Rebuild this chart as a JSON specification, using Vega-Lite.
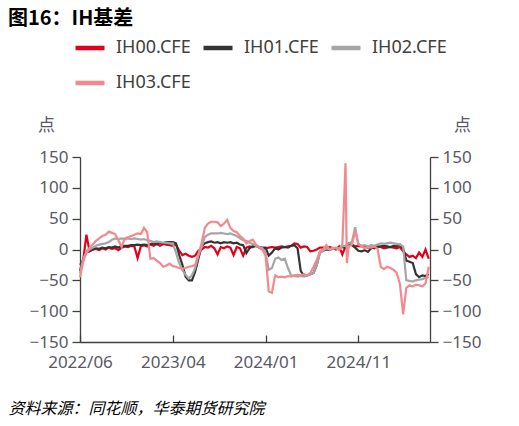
{
  "$schema": "https://vega.github.io/schema/vega-lite/v6.json",
  "width": 350,
  "height": 185,
  "autosize": "none",
  "padding": {"left": 80, "top": 157, "right": 89, "bottom": 84},
  "background": "white",
  "config": {"view": {"stroke": null}, "font": "Noto Sans"},
  "title": {
    "text": "图16：IH基差",
    "font": "Noto Sans CJK SC",
    "fontSize": 20,
    "fontWeight": "bold",
    "color": "#000000",
    "anchor": "start",
    "frame": "group",
    "dx": -72,
    "offset": 2
  },
  "data": {
    "values": [
      {"d": "2022-06-20", "IH00": -25, "IH01": -35, "IH02": -38, "IH03": -45},
      {"d": "2022-06-30", "IH00": -18, "IH01": -15, "IH02": -15, "IH03": -20},
      {"d": "2022-07-10", "IH00": 24, "IH01": -5, "IH02": -5, "IH03": -3},
      {"d": "2022-07-20", "IH00": -3, "IH01": -2, "IH02": 0, "IH03": 3},
      {"d": "2022-07-30", "IH00": 0, "IH01": 0, "IH02": 3, "IH03": 8},
      {"d": "2022-08-09", "IH00": 1, "IH01": 2, "IH02": 6, "IH03": 14},
      {"d": "2022-08-19", "IH00": -1, "IH01": 1, "IH02": 8, "IH03": 18},
      {"d": "2022-08-29", "IH00": 2, "IH01": 3, "IH02": 9, "IH03": 22},
      {"d": "2022-09-08", "IH00": 0, "IH01": 2, "IH02": 10, "IH03": 24},
      {"d": "2022-09-18", "IH00": 3, "IH01": 4, "IH02": 12, "IH03": 29},
      {"d": "2022-09-28", "IH00": 1, "IH01": 3, "IH02": 16, "IH03": 27},
      {"d": "2022-10-08", "IH00": 2, "IH01": 5, "IH02": 18, "IH03": 25},
      {"d": "2022-10-18", "IH00": -1, "IH01": 3, "IH02": 17, "IH03": 15},
      {"d": "2022-10-28", "IH00": 3, "IH01": 5, "IH02": 18, "IH03": 4},
      {"d": "2022-11-07", "IH00": 5, "IH01": 6, "IH02": 17, "IH03": 18},
      {"d": "2022-11-17", "IH00": 4, "IH01": 6, "IH02": 18, "IH03": 20},
      {"d": "2022-11-27", "IH00": 6, "IH01": 7, "IH02": 17, "IH03": 22},
      {"d": "2022-12-07", "IH00": 5, "IH01": 7, "IH02": 18, "IH03": 24},
      {"d": "2022-12-17", "IH00": -14, "IH01": 8, "IH02": 17, "IH03": 26},
      {"d": "2022-12-27", "IH00": 5, "IH01": 7, "IH02": 16, "IH03": 25},
      {"d": "2023-01-06", "IH00": 7, "IH01": 8, "IH02": 17, "IH03": 35},
      {"d": "2023-01-16", "IH00": 5, "IH01": 7, "IH02": 15, "IH03": 28},
      {"d": "2023-01-26", "IH00": 8, "IH01": 9, "IH02": 14, "IH03": -15},
      {"d": "2023-02-05", "IH00": 6, "IH01": 10, "IH02": 12, "IH03": -14},
      {"d": "2023-02-15", "IH00": 9, "IH01": 9, "IH02": 13, "IH03": -18},
      {"d": "2023-02-25", "IH00": 6, "IH01": 11, "IH02": 12, "IH03": -22},
      {"d": "2023-03-07", "IH00": 9, "IH01": 10, "IH02": 11, "IH03": -28},
      {"d": "2023-03-17", "IH00": 8, "IH01": 12, "IH02": 11, "IH03": -26},
      {"d": "2023-03-27", "IH00": 7, "IH01": 12, "IH02": 10, "IH03": -23},
      {"d": "2023-04-06", "IH00": 6, "IH01": 12, "IH02": 10, "IH03": -27},
      {"d": "2023-04-16", "IH00": 8, "IH01": 10, "IH02": -5, "IH03": -28},
      {"d": "2023-04-26", "IH00": -2, "IH01": -9, "IH02": -22, "IH03": -30},
      {"d": "2023-05-06", "IH00": -9, "IH01": -25, "IH02": -33, "IH03": -31},
      {"d": "2023-05-16", "IH00": -7, "IH01": -44, "IH02": -41, "IH03": -30},
      {"d": "2023-05-26", "IH00": -10, "IH01": -50, "IH02": -47, "IH03": -28},
      {"d": "2023-06-05", "IH00": -12, "IH01": -50, "IH02": -42, "IH03": -27},
      {"d": "2023-06-15", "IH00": -10, "IH01": -36, "IH02": -30, "IH03": -25},
      {"d": "2023-06-25", "IH00": -2, "IH01": -15, "IH02": -10, "IH03": -8},
      {"d": "2023-07-05", "IH00": 0, "IH01": 5, "IH02": 4, "IH03": 10},
      {"d": "2023-07-15", "IH00": 4, "IH01": 10, "IH02": 20, "IH03": 35},
      {"d": "2023-07-25", "IH00": 3, "IH01": 12, "IH02": 24, "IH03": 42},
      {"d": "2023-08-04", "IH00": 6, "IH01": 13, "IH02": 26, "IH03": 45},
      {"d": "2023-08-14", "IH00": 2, "IH01": 11, "IH02": 26, "IH03": 45},
      {"d": "2023-08-24", "IH00": -8, "IH01": 12, "IH02": 26, "IH03": 44},
      {"d": "2023-09-03", "IH00": 4, "IH01": 10, "IH02": 27, "IH03": 38},
      {"d": "2023-09-13", "IH00": 2, "IH01": 12, "IH02": 26, "IH03": 42},
      {"d": "2023-09-23", "IH00": 5, "IH01": 11, "IH02": 25, "IH03": 48},
      {"d": "2023-10-03", "IH00": 3, "IH01": 12, "IH02": 26, "IH03": 35},
      {"d": "2023-10-13", "IH00": -9, "IH01": 10, "IH02": 24, "IH03": 30},
      {"d": "2023-10-23", "IH00": 4, "IH01": 11, "IH02": 22, "IH03": 28},
      {"d": "2023-11-02", "IH00": 2, "IH01": 8, "IH02": 18, "IH03": 22},
      {"d": "2023-11-12", "IH00": -10, "IH01": 7, "IH02": 15, "IH03": 18},
      {"d": "2023-11-22", "IH00": 3, "IH01": -6, "IH02": 14, "IH03": 10},
      {"d": "2023-12-02", "IH00": 5, "IH01": 2, "IH02": 11, "IH03": 14},
      {"d": "2023-12-12", "IH00": 4, "IH01": 5, "IH02": 9, "IH03": 16},
      {"d": "2023-12-22", "IH00": 6, "IH01": 6, "IH02": 6, "IH03": 8},
      {"d": "2024-01-01", "IH00": 3, "IH01": 4, "IH02": 4, "IH03": 3},
      {"d": "2024-01-11", "IH00": 0, "IH01": 3, "IH02": 2, "IH03": 0},
      {"d": "2024-01-21", "IH00": 2, "IH01": 3, "IH02": -5, "IH03": -10},
      {"d": "2024-01-31", "IH00": 3, "IH01": -10, "IH02": -33, "IH03": -68},
      {"d": "2024-02-10", "IH00": 4, "IH01": -5, "IH02": -30, "IH03": -70},
      {"d": "2024-02-20", "IH00": 3, "IH01": 2, "IH02": -15, "IH03": -42},
      {"d": "2024-03-01", "IH00": 4, "IH01": 0, "IH02": -13, "IH03": -45},
      {"d": "2024-03-11", "IH00": 5, "IH01": 3, "IH02": -17, "IH03": -44},
      {"d": "2024-03-21", "IH00": 4, "IH01": 4, "IH02": -15, "IH03": -45},
      {"d": "2024-03-31", "IH00": 5, "IH01": 3, "IH02": -30, "IH03": -43},
      {"d": "2024-04-10", "IH00": 6, "IH01": 6, "IH02": -42, "IH03": -44},
      {"d": "2024-04-20", "IH00": 10, "IH01": 7, "IH02": -43, "IH03": -42},
      {"d": "2024-04-30", "IH00": 9, "IH01": 2, "IH02": -44, "IH03": -41},
      {"d": "2024-05-10", "IH00": 3, "IH01": -35, "IH02": -43, "IH03": -42},
      {"d": "2024-05-20", "IH00": 5, "IH01": -42, "IH02": -44, "IH03": -40},
      {"d": "2024-05-30", "IH00": 4, "IH01": -42, "IH02": -42, "IH03": -42},
      {"d": "2024-06-09", "IH00": -3, "IH01": -40, "IH02": -40, "IH03": -38},
      {"d": "2024-06-19", "IH00": -2, "IH01": -38, "IH02": -38, "IH03": -28},
      {"d": "2024-06-29", "IH00": 0, "IH01": -25, "IH02": -25, "IH03": -17},
      {"d": "2024-07-09", "IH00": 3, "IH01": -4, "IH02": -6, "IH03": -3},
      {"d": "2024-07-19", "IH00": 3, "IH01": -2, "IH02": -2, "IH03": 0},
      {"d": "2024-07-29", "IH00": 2, "IH01": 0, "IH02": 2, "IH03": 7},
      {"d": "2024-08-08", "IH00": 4, "IH01": -1, "IH02": 0, "IH03": 0},
      {"d": "2024-08-18", "IH00": 2, "IH01": 2, "IH02": 1, "IH03": 3},
      {"d": "2024-08-28", "IH00": 0, "IH01": 1, "IH02": 3, "IH03": 2},
      {"d": "2024-09-07", "IH00": 5, "IH01": 3, "IH02": 2, "IH03": -1},
      {"d": "2024-09-17", "IH00": -8, "IH01": 4, "IH02": 5, "IH03": 8},
      {"d": "2024-09-27", "IH00": 5, "IH01": 2, "IH02": 6, "IH03": 140},
      {"d": "2024-10-01", "IH00": 8, "IH01": 5, "IH02": 8, "IH03": -22},
      {"d": "2024-10-07", "IH00": 10, "IH01": 10, "IH02": 10, "IH03": 5},
      {"d": "2024-10-17", "IH00": 8, "IH01": 7, "IH02": 12, "IH03": 8},
      {"d": "2024-10-27", "IH00": 5, "IH01": 3, "IH02": 36, "IH03": 30},
      {"d": "2024-11-06", "IH00": 6, "IH01": -2, "IH02": 8, "IH03": 10},
      {"d": "2024-11-16", "IH00": 5, "IH01": -3, "IH02": 6, "IH03": 5},
      {"d": "2024-11-26", "IH00": 5, "IH01": -1, "IH02": 7, "IH03": 2},
      {"d": "2024-12-06", "IH00": 3, "IH01": -4, "IH02": 5, "IH03": 4},
      {"d": "2024-12-16", "IH00": 4, "IH01": 2, "IH02": 7, "IH03": 3},
      {"d": "2024-12-26", "IH00": 2, "IH01": 3, "IH02": 6, "IH03": 5},
      {"d": "2025-01-05", "IH00": 5, "IH01": 4, "IH02": 8, "IH03": 1},
      {"d": "2025-01-15", "IH00": 4, "IH01": 5, "IH02": 10, "IH03": -28},
      {"d": "2025-01-25", "IH00": 2, "IH01": 6, "IH02": 9, "IH03": -32},
      {"d": "2025-02-04", "IH00": 3, "IH01": 5, "IH02": 10, "IH03": -28},
      {"d": "2025-02-14", "IH00": 4, "IH01": 4, "IH02": 11, "IH03": -30},
      {"d": "2025-02-24", "IH00": 3, "IH01": 6, "IH02": 10, "IH03": -33},
      {"d": "2025-03-06", "IH00": 2, "IH01": 5, "IH02": 9, "IH03": -38},
      {"d": "2025-03-16", "IH00": 4, "IH01": 8, "IH02": 8, "IH03": -56},
      {"d": "2025-03-26", "IH00": -3, "IH01": 2, "IH02": 5, "IH03": -105},
      {"d": "2025-04-05", "IH00": -8, "IH01": -18, "IH02": -50, "IH03": -62},
      {"d": "2025-04-15", "IH00": -12, "IH01": -20, "IH02": -51, "IH03": -58},
      {"d": "2025-04-25", "IH00": -10, "IH01": -22, "IH02": -52, "IH03": -60},
      {"d": "2025-05-05", "IH00": -14, "IH01": -40, "IH02": -50, "IH03": -57},
      {"d": "2025-05-15", "IH00": -5, "IH01": -45, "IH02": -49, "IH03": -58},
      {"d": "2025-05-25", "IH00": -12, "IH01": -42, "IH02": -48, "IH03": -60},
      {"d": "2025-06-04", "IH00": 0, "IH01": -43, "IH02": -46, "IH03": -55},
      {"d": "2025-06-14", "IH00": -15, "IH01": -40, "IH02": -45, "IH03": -28}
    ]
  },
  "transform": [
    {"fold": ["IH00", "IH01", "IH02", "IH03"], "as": ["series", "value"]}
  ],
  "layer": [
    {
      "mark": {"type": "line", "strokeWidth": 2.2, "interpolate": "linear"},
      "encoding": {
        "x": {
          "field": "d",
          "type": "temporal",
          "scale": {"domain": [{"year": 2022, "month": 6, "date": 20}, {"year": 2025, "month": 6, "date": 18}]},
          "axis": {
            "values": [
              {"year": 2022, "month": 6, "date": 20},
              {"year": 2023, "month": 4, "date": 6},
              {"year": 2024, "month": 1, "date": 21},
              {"year": 2024, "month": 11, "date": 6}
            ],
            "format": "%Y/%m",
            "grid": false,
            "domainColor": "#404040",
            "domainWidth": 1.3,
            "tickColor": "#404040",
            "tickWidth": 1.3,
            "tickSize": -7,
            "labelPadding": 19,
            "labelFontSize": 17,
            "labelColor": "#595966",
            "labelFont": "Noto Sans",
            "labelAlign": "center",
            "labelOverlap": false,
            "title": "资料来源：同花顺，华泰期货研究院",
            "titleFont": "Noto Sans CJK SC",
            "titleFontStyle": "italic",
            "titleFontWeight": "normal",
            "titleFontSize": 16,
            "titleColor": "#000000",
            "titleAlign": "left",
            "titleBaseline": "middle",
            "titleX": -72,
            "titleY": 66
          }
        },
        "y": {
          "field": "value",
          "type": "quantitative",
          "scale": {"domain": [-150, 150], "nice": false, "zero": false},
          "axis": {
            "values": [-150, -100, -50, 0, 50, 100, 150],
            "grid": false,
            "domainColor": "#404040",
            "domainWidth": 1.3,
            "tickColor": "#404040",
            "tickWidth": 1.3,
            "tickSize": 8,
            "labelPadding": 4,
            "labelFontSize": 17,
            "labelColor": "#595966",
            "labelFont": "Noto Sans",
            "title": "点",
            "titleFont": "Noto Sans CJK SC",
            "titleFontSize": 17,
            "titleFontWeight": "normal",
            "titleColor": "#595966",
            "titleAngle": 0,
            "titleAlign": "center",
            "titleBaseline": "middle",
            "titleX": -34,
            "titleY": -32
          }
        },
        "color": {
          "field": "series",
          "type": "nominal",
          "scale": {
            "domain": ["IH00", "IH01", "IH02", "IH03"],
            "range": ["#e0001b", "#333333", "#a5a5a5", "#f2898e"]
          },
          "legend": {
            "orient": "none",
            "legendX": -7,
            "legendY": -126,
            "direction": "horizontal",
            "columns": 3,
            "title": null,
            "symbolType": "stroke",
            "symbolSize": 841,
            "symbolStrokeWidth": 4.5,
            "labelExpr": "datum.label + '.CFE'",
            "labelFontSize": 18,
            "labelFont": "Noto Sans",
            "labelColor": "#404040",
            "labelOffset": 9,
            "columnPadding": 3,
            "rowPadding": 9
          }
        }
      }
    },
    {
      "mark": {"type": "line", "strokeOpacity": 0},
      "encoding": {
        "x": {"field": "d", "type": "temporal"},
        "y": {
          "field": "value",
          "type": "quantitative",
          "scale": {"domain": [-150, 150], "nice": false, "zero": false},
          "axis": {
            "orient": "right",
            "values": [-150, -100, -50, 0, 50, 100, 150],
            "grid": false,
            "domainColor": "#404040",
            "domainWidth": 1.3,
            "tickColor": "#404040",
            "tickWidth": 1.3,
            "tickSize": 8,
            "labelPadding": 4,
            "labelFontSize": 17,
            "labelColor": "#595966",
            "labelFont": "Noto Sans",
            "title": "点",
            "titleFont": "Noto Sans CJK SC",
            "titleFontSize": 17,
            "titleFontWeight": "normal",
            "titleColor": "#595966",
            "titleAngle": 0,
            "titleAlign": "center",
            "titleBaseline": "middle",
            "titleX": 32,
            "titleY": -32
          }
        },
        "detail": {"field": "series", "type": "nominal"}
      }
    }
  ],
  "resolve": {"scale": {"y": "independent"}}
}
